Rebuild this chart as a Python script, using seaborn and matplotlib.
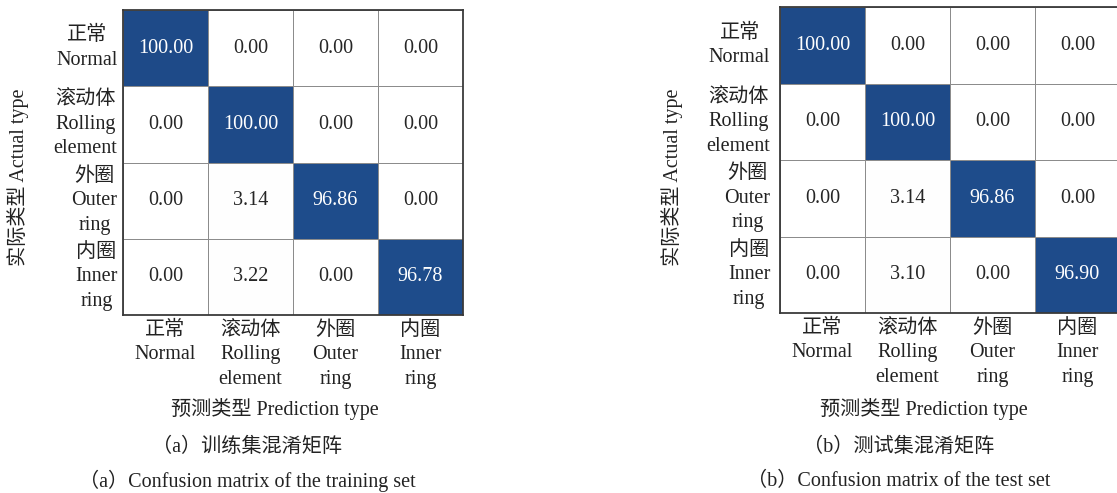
import numpy as np
import matplotlib.pyplot as plt
import seaborn as sns
from matplotlib.colors import LinearSegmentedColormap

# class labels (Chinese + English, multi-line)
classes = ['正常\nNormal', '滚动体\nRolling\nelement', '外圈\nOuter\nring', '内圈\nInner\nring']

# confusion matrices in percent
train_cm = np.array([[100.00, 0.00, 0.00, 0.00],
                     [0.00, 100.00, 0.00, 0.00],
                     [0.00, 3.14, 96.86, 0.00],
                     [0.00, 3.22, 0.00, 96.78]])
test_cm = np.array([[100.00, 0.00, 0.00, 0.00],
                    [0.00, 100.00, 0.00, 0.00],
                    [0.00, 3.14, 96.86, 0.00],
                    [0.00, 3.10, 0.00, 96.90]])

captions_cn = ['（a）训练集混淆矩阵', '（b）测试集混淆矩阵']
captions_en = ['（a）Confusion matrix of the training set', '（b）Confusion matrix of the test set']

sns.set_style('white')
plt.rcParams['font.family'] = ['Liberation Serif', 'Noto Sans CJK SC']
plt.rcParams['axes.unicode_minus'] = False

cmap = LinearSegmentedColormap.from_list('cm_blue', ['#ffffff', '#f4f4f4', '#1c5aa3', '#1e4a88'],
                                         N=256)

fig = plt.figure(figsize=(11.17, 4.93), dpi=100)

# axes placement: [left, bottom, width, height] in figure fraction
ax_pos = [[123 / 1117, 1 - 315 / 493, 340 / 1117, 305 / 493],
          [780 / 1117, 1 - 313 / 493, 340 / 1117, 306 / 493]]
ypad = [4, 7]
ylabel_x = [18 / 1117, 672 / 1117]
xlabel_x = [275 / 1117, 924 / 1117]
caption_x = [247 / 1117, 899 / 1117]

for i, cm in enumerate([train_cm, test_cm]):
    ax = fig.add_axes(ax_pos[i])
    sns.heatmap(cm, ax=ax, cmap=cmap, vmin=0, vmax=100, cbar=False,
                annot=True, fmt='.2f', annot_kws={'size': 14.5},
                linewidths=0.7, linecolor='#8c8c8c',
                xticklabels=classes, yticklabels=classes)
    for s in ax.spines.values():
        s.set_visible(True)
        s.set_color('#3a3a3a')
        s.set_linewidth(1.3)
    ax.tick_params(axis='both', length=0, labelsize=14.5)
    ax.tick_params(axis='y', pad=ypad[i])
    ax.tick_params(axis='x', pad=4)
    for t in ax.get_xticklabels():
        t.set_rotation(0)
        t.set_multialignment('center')
        t.set_linespacing(1.4)
        t.set_color('#222222')
    for t in ax.get_yticklabels():
        t.set_rotation(0)
        t.set_multialignment('center')
        t.set_linespacing(1.4)
        t.set_color('#222222')

    fig.text(ylabel_x[i], 1 - 177 / 493, '实际类型 Actual type', rotation=90,
             ha='center', va='center', fontsize=14.5, color='#222222')
    fig.text(xlabel_x[i], 1 - 409 / 493, '预测类型 Prediction type',
             ha='center', va='center', fontsize=14.5, color='#222222')
    fig.text(caption_x[i], 1 - 447 / 493, captions_cn[i],
             ha='center', va='center', fontsize=14.5, color='#222222')
    fig.text(caption_x[i], 1 - 481 / 493, captions_en[i],
             ha='center', va='center', fontsize=14.5, color='#222222')

fig.savefig('out.png', dpi=100)
